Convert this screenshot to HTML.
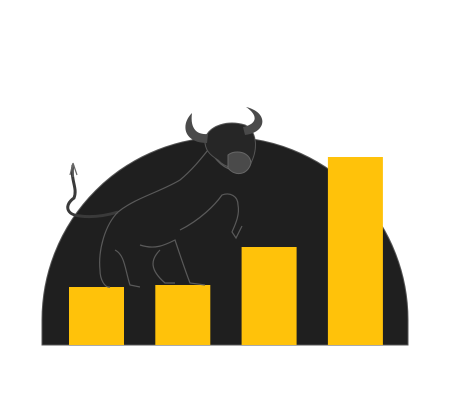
<!DOCTYPE html>
<html><head><meta charset="utf-8"><style>
html,body{margin:0;padding:0;background:#fff;width:450px;height:419px;overflow:hidden}
svg{display:block}
</style></head><body>
<svg id="chart" width="450" height="419" viewBox="0 0 450 419" xmlns="http://www.w3.org/2000/svg">
<path d="M42,345 L42,320 A183,183 0 0 1 408,320 L408,345 Z" fill="#1f1f1f" stroke="#555" stroke-width="1"/>
<g id="bars"></g>
<g fill="none" stroke="#5a5a5a" stroke-width="1.2">
<path d="M73,165 C70,180 78,188 74,198 C64,205 66,215 80,216 C95,218 108,215 118,212" stroke="#3a3a3a" stroke-width="3"/>
<path d="M73,163 l-3,12 M73,163 l4,12 M73,163 l0,14" stroke="#666"/>
<path d="M118,212 C135,198 160,192 180,180 C192,170 200,160 208,150"/>
<path d="M118,212 C105,225 98,250 100,270 C100,280 105,288 110,287"/>
<path d="M115,250 C125,255 125,270 130,285 L140,287"/>
<path d="M140,245 C155,250 165,245 175,240 C180,255 185,270 190,283 L205,285"/>
<path d="M160,250 C150,260 150,270 165,283 L175,283"/>
<path d="M180,230 C200,220 215,205 222,195 C230,192 238,196 238,205 C240,215 235,225 232,232 L236,238 L242,226"/>
<path d="M210,150 C215,160 225,170 235,170"/>
</g>
<g>
<path d="M205,138 C210,125 228,120 245,125 C258,132 258,150 250,165 C240,172 225,168 218,160 C210,155 204,150 205,138 Z" fill="#262626" stroke="#555"/>
<path d="M192,113 C180,125 184,143 207,143 L208,134 C196,135 190,128 192,113 Z" fill="#4a4a4a"/>
<path d="M246,107 C268,112 268,132 245,135 L243,127 C258,124 258,115 246,107 Z" fill="#4a4a4a"/>
<path d="M228,155 C236,149 250,152 251,163 C248,175 235,177 228,168 Z" fill="#4a4a4a" stroke="#666"/>
</g>
<script>
var categories = ["Q1","Q2","Q3","Q4"];
var values = [58, 60, 98, 188];
var baseY = 345, x0 = 69, step = 86.3, bw = 55;
function yScale(v){ return baseY - v; }
function xScale(i){ return x0 + i*step; }
var g = document.getElementById('bars');
values.forEach(function(v,i){
  var r = document.createElementNS('http://www.w3.org/2000/svg','rect');
  r.setAttribute('x', xScale(i));
  r.setAttribute('y', yScale(v));
  r.setAttribute('width', bw);
  r.setAttribute('height', baseY - yScale(v));
  r.setAttribute('fill', '#FFC20A');
  
  
  g.appendChild(r);
});
</script>
</svg>
</body></html>
